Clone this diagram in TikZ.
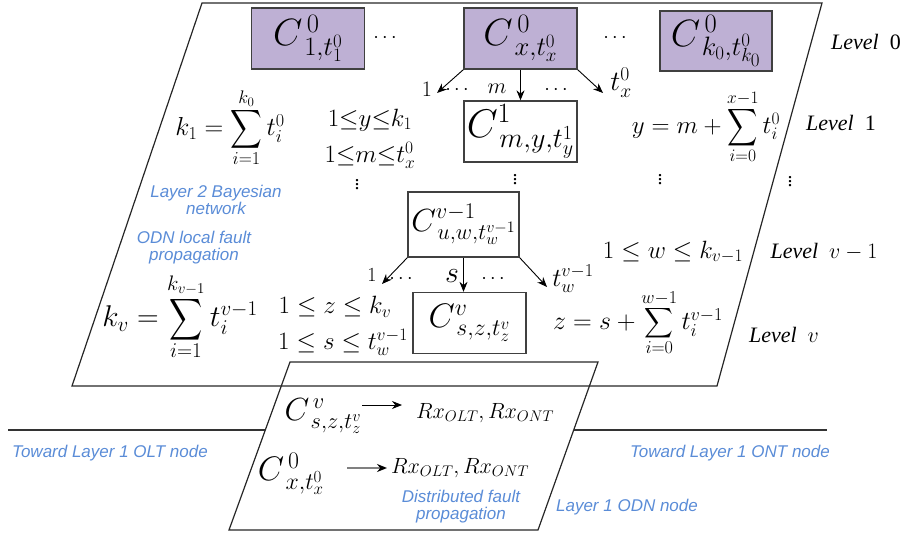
\RequirePackage{fix-cm}
\documentclass[tikz,border=0pt]{standalone}
\usepackage{fontspec}
\setmainfont{Liberation Serif}
\newfontfamily\bluesans{Liberation Sans}
\usetikzlibrary{arrows.meta}
\definecolor{boxpurple}{RGB}{190,176,212}
\definecolor{lblblue}{RGB}{90,140,215}
\definecolor{boxedge}{RGB}{64,64,64}
\newcommand{\fs}[1]{\fontsize{#1}{#1}\selectfont}
\newcommand{\Sum}[2]{\mathop{\vcenter{\hbox{\scalebox{#1}[#2]{$\displaystyle\sum$}}}}\limits}
\begin{document}
\begin{tikzpicture}[x=1pt,y=-1pt,
  cbox/.style={draw=boxedge,line width=1.3pt,inner sep=0pt,minimum width=113pt,minimum height=61pt},
  pbox/.style={cbox,fill=boxpurple},
  plane/.style={line width=1.2pt,black!85},
  rule/.style={line width=2pt,black!80},
  arr/.style={-{Stealth[length=10pt,width=8pt]},line width=0.9pt},
  mth/.style={inner sep=0pt},
  blue/.style={font=\bluesans\itshape\fs{17},text=lblblue,align=center,inner sep=0pt},
  lvl/.style={font=\fs{22},inner sep=0pt}]
\useasboundingbox (0,0) rectangle (906,535);
% planes
\draw[plane] (202,3) -- (822,3) -- (717,386) -- (72,386) -- cycle;
\draw[plane] (290,362) -- (598,362) -- (538,530) -- (229,530) -- cycle;
\draw[rule] (8,430) -- (265,430);
\draw[rule] (574,430) -- (827,430);
% boxes
\node[pbox] (c01) at (308,38.5) {\fs{38}$C^{\,0}_{\,1,t_1^0}$};
\node[pbox] (c0x) at (520.5,38.5) {\fs{38}$C^{\,0}_{\,x,t_x^0}$};
\node[pbox,minimum width=112pt,minimum height=60pt] (c0k) at (716,41) {\fs{38}$C^{\,0}_{\,k_0,t_{k_0}^0}$};
\node[cbox] (c1) at (520.5,131.5) {\fs{40}$C^{1}_{\,m,y,t_y^1}$};
\node[cbox,minimum width=111pt,minimum height=65pt] (cv1) at (463.5,224.5) {\fs{32}$C^{v-1}_{\,u,w,t_w^{v-1}}$};
\node[cbox] (cv) at (469.5,323) {\fs{34}$C^{v}_{\,s,z,t_z^v}$};
% dots between top boxes
\node[mth,font=\fs{20}] (h1) at (385,38) {$\cdots$};
\node[mth,font=\fs{20}] (h2) at (615,38) {$\cdots$};
% arrows level 0 -> 1
\coordinate (a1) at (437,93);
\coordinate (a3) at (603,93);
\draw[arr] (c0x.south west) -- (a1);
\draw[arr] (c0x.south) -- (c1.north);
\draw[arr] (c0x.south east) -- (a3);
\node[mth,font=\fs{22}] (n1) at (427,89) {$1$};
\node[mth,font=\fs{20}] (d1) at (457,90) {$\cdots$};
\node[mth,font=\fs{22}] (nm) at (497,89) {$m$};
\node[mth,font=\fs{20}] (d2) at (556,90) {$\cdots$};
\node[mth,font=\fs{28}] (ntx) at (621,83) {$t_x^0$};
% arrows level v-1 -> v
\coordinate (b1) at (382,284);
\coordinate (b3) at (547,287);
\draw[arr] (cv1.south west) -- (b1);
\draw[arr] (cv1.south) -- (cv1.south |- cv.north);
\draw[arr] (cv1.south east) -- (b3);
\node[mth,font=\fs{20}] (m1) at (372,275) {$1$};
\node[mth,font=\fs{20}] (e1) at (401,279) {$\cdots$};
\node[mth,font=\fs{30}] (ms) at (452,276) {$s$};
\node[mth,font=\fs{20}] (e2) at (493,279) {$\cdots$};
\node[mth,font=\fs{26}] (mtw) at (573,279) {$t_w^{v-1}$};
% vertical dots
\node[mth,font=\fs{20}] (v1) at (357,182) {$\vdots$};
\node[mth,font=\fs{20}] (v2) at (515,177) {$\vdots$};
\node[mth,font=\fs{20}] (v3) at (660,177) {$\vdots$};
\node[mth,font=\fs{20}] (v4) at (790,179) {$\vdots$};
% formulas level 1
\node[mth,font=\fs{26}] (fk1) at (230,128) {$k_1=\Sum{2.2}{2.7}_{i=1}^{k_0} t_i^0$};
\node[mth,font=\fs{25}] (fy) at (370,120) {$1{\le}y{\le}k_1$};
\node[mth,font=\fs{25}] (fm) at (370,155) {$1{\le}m{\le}t_x^0$};
\node[mth,font=\fs{25}] (fym) at (706,127) {$y=m+\Sum{2.1}{2.6}_{i=0}^{x-1}t_i^0$};
% formulas level v
\node[mth,font=\fs{25}] (fw) at (673,252) {$1\le w\le k_{v-1}$};
\node[mth,font=\fs{26}] (fzs) at (638,323) {$z=s+\Sum{2.0}{2.1}_{i=0}^{w-1}t_i^{v-1}$};
\node[mth,font=\fs{30}] (fkv) at (180,317) {$k_v=\Sum{2.3}{2.9}_{i=1}^{k_{v-1}}t_i^{v-1}$};
\node[mth,font=\fs{25}] (fz) at (335,307) {$1\le z\le k_v$};
\node[mth,font=\fs{25}] (fs) at (343,342) {$1\le s\le t_w^{v-1}$};
% level labels
\node[lvl] (lv0) at (866,42) {\textit{Level}\ \ 0};
\node[lvl] (lv1) at (841,123) {\textit{Level}\ \ 1};
\node[lvl] (lvv1) at (824,252) {\textit{Level}\ \ $v-1$};
\node[lvl] (lvv) at (784,335) {\textit{Level}\ \ $v$};
% blue labels
\node[blue] (bn) at (216,200) {Layer 2 Bayesian\\network};
\node[blue] (odn) at (194,248) {ODN local fault\\propagation};
\node[blue] (dfp) at (461,507) {Distributed fault\\propagation};
\node[blue] (olt) at (110,453) {Toward Layer 1 OLT node};
\node[blue] (ont) at (730,453) {Toward Layer 1 ONT node};
\node[blue] (odnn) at (627,507) {Layer 1 ODN node};
% bottom plane contents
\node[mth,font=\fs{32}] (cvb) at (323,416) {$C^{\,v}_{\,s,z,t_z^v}$};
\node[mth,font=\fs{22}] (rx1) at (485,413) {$Rx_{OLT},Rx_{ONT}$};
\coordinate (p1) at (362,405);
\coordinate (p2) at (402,405);
\draw[arr] (p1) -- (p2);
\node[mth,font=\fs{34}] (c0b) at (291,474) {$C^{\,0}_{\,x,t_x^0}$};
\node[mth,font=\fs{22}] (rx2) at (460,468) {$Rx_{OLT},Rx_{ONT}$};
\coordinate (q1) at (347,468);
\coordinate (q2) at (387,468);
\draw[arr,draw=gray,line width=1.8pt,-{Stealth[length=10pt,width=8pt,black]}] (q1) -- (q2);
\end{tikzpicture}
\end{document}
